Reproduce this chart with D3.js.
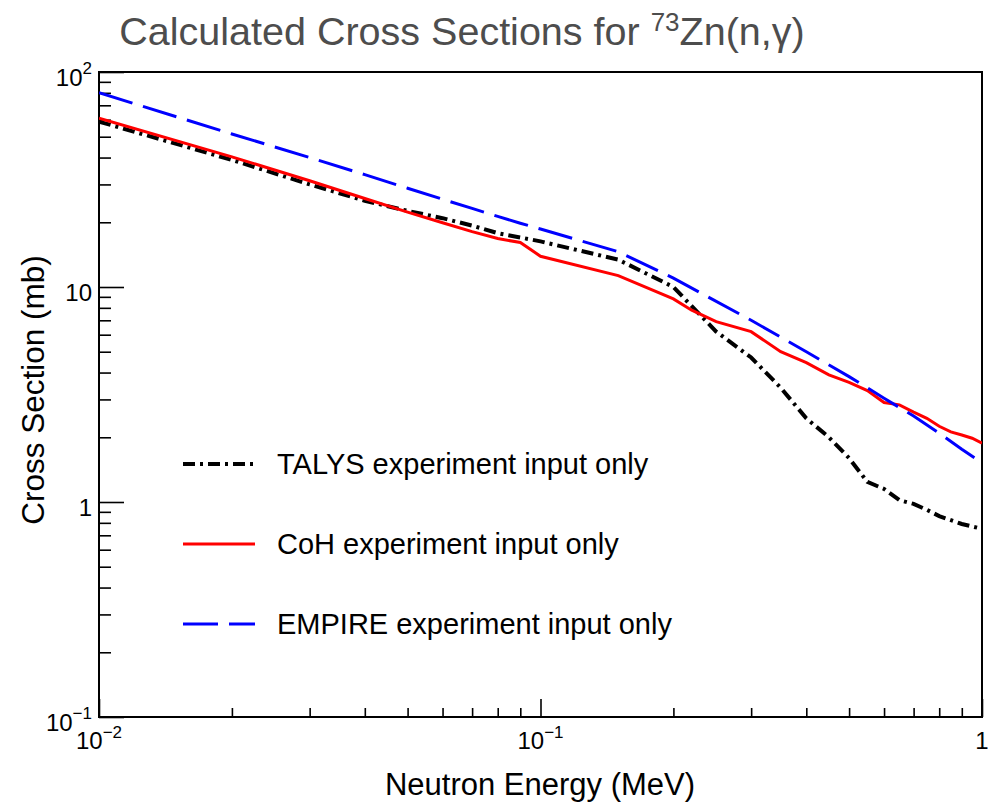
<!DOCTYPE html>
<html>
<head>
<meta charset="utf-8">
<script src="https://cdn.jsdelivr.net/npm/d3@7"></script>
<style>
  body { margin: 0; background: #fff; }
  svg text { font-family: "Liberation Sans", Arial, Helvetica, sans-serif; }
</style>
</head>
<body>
<svg id="chart" width="988" height="804"></svg>
<script>
// values (energy in MeV, cross section in mb)
const talysEnergy = [0.01, 0.02, 0.03, 0.04, 0.05, 0.06, 0.07, 0.08, 0.09, 0.1, 0.15, 0.2, 0.25, 0.3, 0.35, 0.4, 0.45, 0.5, 0.55, 0.6, 0.65, 0.7, 0.75, 0.8, 0.9, 1.0];
const talysXS     = [58.8, 39.0, 30.0, 25.2, 22.6, 20.9, 19.3, 17.8, 17.0, 16.3, 13.4, 10.0, 6.2, 4.7, 3.4, 2.45, 2.0, 1.6, 1.24, 1.15, 1.02, 0.98, 0.92, 0.86, 0.79, 0.75];

const cohEnergy = [0.01, 0.02, 0.03, 0.04, 0.05, 0.06, 0.07, 0.08, 0.09, 0.1, 0.15, 0.2, 0.22, 0.25, 0.3, 0.35, 0.4, 0.45, 0.5, 0.55, 0.6, 0.65, 0.7, 0.75, 0.8, 0.85, 0.9, 0.95, 1.0];
const cohXS     = [60.9, 40.3, 31.2, 25.8, 22.3, 19.9, 18.1, 16.8, 16.1, 13.9, 11.3, 8.8, 7.8, 6.9, 6.2, 5.0, 4.45, 3.9, 3.6, 3.3, 2.9, 2.83, 2.62, 2.45, 2.25, 2.12, 2.05, 1.98, 1.88];

const empireEnergy = [0.01, 0.02, 0.03, 0.04, 0.05, 0.06, 0.07, 0.08, 0.09, 0.1, 0.15, 0.2, 0.3, 0.4, 0.5, 0.6, 0.7, 0.8, 0.9, 1.0];
const empireXS     = [80.1, 51.5, 40.0, 33.3, 28.8, 25.6, 23.2, 21.3, 19.8, 18.6, 14.6, 11.0, 7.0, 5.0, 3.83, 3.04, 2.51, 2.09, 1.76, 1.52];

const legendLabels = ["TALYS experiment input only", "CoH experiment input only", "EMPIRE experiment input only"];

const xMajor = [0.01, 0.1, 1];
const xMinor = [0.02, 0.03, 0.04, 0.05, 0.06, 0.07, 0.08, 0.09, 0.2, 0.3, 0.4, 0.5, 0.6, 0.7, 0.8, 0.9];
const yMajor = [0.1, 1, 10, 100];
const yMinor = [0.2, 0.3, 0.4, 0.5, 0.6, 0.7, 0.8, 0.9, 2, 3, 4, 5, 6, 7, 8, 9, 20, 30, 40, 50, 60, 70, 80, 90];
const xTickLabels = [["10", "\u22122"], ["10", "\u22121"], ["1", ""]];
const yTickLabels = [["10", "\u22121"], ["1", ""], ["10", ""], ["10", "2"]];

const svg = d3.select("#chart");
const margin = {top: 72, right: 6, bottom: 87, left: 99};
const width = +svg.attr("width") - margin.left - margin.right;
const height = +svg.attr("height") - margin.top - margin.bottom;

const x = d3.scaleLog().domain([0.01, 1]).range([0, width]);
const y = d3.scaleLog().domain([0.1, 100]).range([height, 0]);

const g = svg.append("g").attr("transform", `translate(${margin.left},${margin.top})`);

svg.append("defs").append("clipPath").attr("id", "plotClip")
  .append("rect").attr("width", width).attr("height", height);

// ticks, pointing into the frame
function tickAxis(axis, values, size) {
  return axis.tickValues(values).tickSize(-size).tickFormat("");
}
g.append("g").attr("transform", `translate(0,${height})`).call(tickAxis(d3.axisBottom(x), xMajor, 18));
g.append("g").attr("transform", `translate(0,${height})`).call(tickAxis(d3.axisBottom(x), xMinor, 9));
g.append("g").call(tickAxis(d3.axisLeft(y), yMajor, 25));
g.append("g").call(tickAxis(d3.axisLeft(y), yMinor, 12));
g.selectAll(".domain").remove();
g.selectAll(".tick line").attr("stroke", "#000").attr("stroke-width", 1.6);

// frame
g.append("rect").attr("width", width).attr("height", height)
  .attr("fill", "none").attr("stroke", "#000").attr("stroke-width", 2);

// tick labels
xMajor.forEach((v, i) => {
  const t = g.append("text").attr("x", x(v)).attr("y", height + 32)
    .attr("text-anchor", "middle").attr("font-size", 24).attr("fill", "#000");
  t.append("tspan").text(xTickLabels[i][0]);
  if (xTickLabels[i][1]) t.append("tspan").attr("dy", -11).attr("font-size", 17).text(xTickLabels[i][1]);
});
yMajor.forEach((v, i) => {
  const t = g.append("text").attr("x", -7).attr("y", y(v) + 14)
    .attr("text-anchor", "end").attr("font-size", 24).attr("fill", "#000");
  t.append("tspan").text(yTickLabels[i][0]);
  if (yTickLabels[i][1]) t.append("tspan").attr("dy", -12).attr("font-size", 17).text(yTickLabels[i][1]);
});

// series
const series = [
  {energy: talysEnergy, xs: talysXS, color: "#000", width: 4, dash: "12,5,3,5"},
  {energy: cohEnergy, xs: cohXS, color: "#ff0000", width: 3, dash: null},
  {energy: empireEnergy, xs: empireXS, color: "#0000ff", width: 3, dash: "35,11"}
];

const line = d3.line().x(d => x(d[0])).y(d => y(d[1]));
const plot = g.append("g").attr("clip-path", "url(#plotClip)");
series.forEach(s => {
  plot.append("path")
    .datum(s.energy.map((e, i) => [e, s.xs[i]]))
    .attr("d", line)
    .attr("fill", "none")
    .attr("stroke", s.color)
    .attr("stroke-width", s.width)
    .attr("stroke-dasharray", s.dash);
});

// legend
const legend = g.append("g").attr("transform", "translate(84,392)");
series.forEach((s, i) => {
  const row = legend.append("g").attr("transform", `translate(0,${i * 80})`);
  row.append("line").attr("x1", 0).attr("x2", 72)
    .attr("stroke", s.color).attr("stroke-width", s.width).attr("stroke-dasharray", s.dash);
  row.append("text").attr("x", 94).attr("y", 10).attr("font-size", 29).attr("fill", "#000")
    .text(legendLabels[i]);
});

// axis titles
svg.append("text").attr("x", 540).attr("y", 795).attr("text-anchor", "middle")
  .attr("font-size", 31).attr("fill", "#000").text("Neutron Energy (MeV)");
svg.append("text").attr("transform", "translate(44,390) rotate(-90)").attr("text-anchor", "middle")
  .attr("font-size", 31.5).attr("fill", "#000").text("Cross Section (mb)");

// title
const title = svg.append("text").attr("x", 462).attr("y", 45).attr("text-anchor", "middle")
  .attr("font-size", 39.5).attr("fill", "#4d4d4d");
title.append("tspan").text("Calculated Cross Sections for ");
title.append("tspan").attr("dy", -14).attr("font-size", 26).text("73");
title.append("tspan").attr("dy", 14).text("Zn(n,\u03b3)");
</script>
</body>
</html>
